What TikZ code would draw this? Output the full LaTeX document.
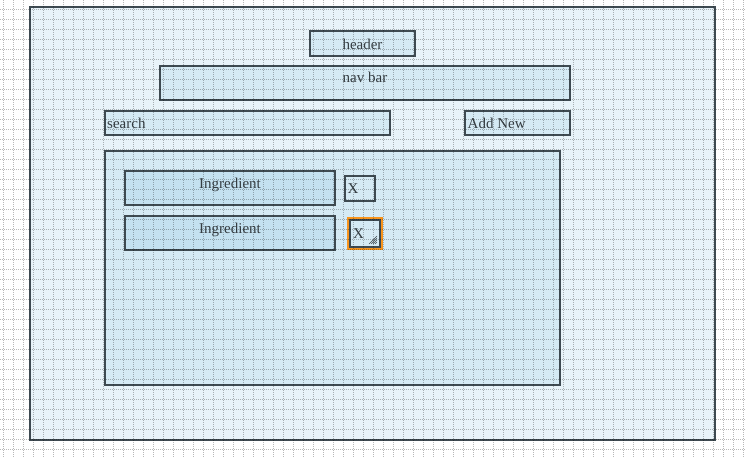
\documentclass[tikz,border=0pt]{standalone}
\usepackage{fontspec}
\setmainfont{Liberation Serif}
\definecolor{wireline}{HTML}{3E4A51}
\definecolor{wiretext}{HTML}{353D42}
\definecolor{pagefill}{HTML}{E8F3F9}
\definecolor{boxfill}{HTML}{D5EAF4}
\definecolor{rowfill}{HTML}{C4E1F0}
\definecolor{gridgray}{HTML}{B8B8B8}
\definecolor{selorange}{HTML}{F7941D}
\tikzset{
  wire/.style={draw=wireline, line width=2.3pt, fill=boxfill, anchor=north west,
    inner sep=0pt, outer sep=0pt},
  wiretxt/.style={text=wiretext, font=\fontsize{15}{17}\selectfont},
  gridline/.style={gridgray, line width=0.8pt, dash pattern=on 1pt off 1pt},
}
\begin{document}
\begin{tikzpicture}[x=1pt, y=-1pt]
	\useasboundingbox[fill=white] (0,0) rectangle (745,458);
	% page and top bar
	\node[wire, fill=pagefill, minimum width=685, minimum height=433] (page) at (30,7) {};
	\node[wire, minimum width=105, minimum height=25,
		label={[wiretxt, anchor=center, yshift=-1pt]center:header}] (header) at (310,31) {};
	\node[wire, minimum width=410, minimum height=34,
		label={[wiretxt, anchor=north, inner sep=5.5pt]north:nav bar}] (navbar) at (160,66) {};
	% search row
	\node[wire, minimum width=285, minimum height=24,
		label={[wiretxt, anchor=west, inner sep=2pt]west:search}] (search) at (105,111) {};
	\node[wire, minimum width=105, minimum height=24,
		label={[wiretxt, anchor=west, inner sep=2.5pt]west:Add New}] (addnew) at (465,111) {};
	% list of ingredients
	\node[wire, minimum width=455, minimum height=234] (list) at (105,151) {};
	\foreach \r\y in {1/171,2/216}{
		\node[wire, fill=rowfill, minimum width=210, minimum height=34,
			label={[wiretxt, anchor=north, inner sep=6.5pt]north:Ingredient}] (ingr\r) at (125,\y) {};
	}
	\node[wire, minimum width=30, minimum height=25,
		label={[wiretxt, anchor=west, inner sep=2.5pt]west:X}] (del1) at (345,176) {};
	\node[wire, minimum width=30, minimum height=27,
		label={[wiretxt, anchor=west, inner sep=3pt]west:X}] (del2) at (350,220) {};
	% selection outline and resize handle
	\draw[selorange, line width=1.5pt] ([shift={(-2.2,-2.2)}]del2.north west) rectangle ([shift={(2.2,2.2)}]del2.south east);
	\foreach \k in {2,4,6,8}{
		\draw[wireline, line width=0.6pt] ([shift={(-3-\k,-3)}]del2.south east) -- ([shift={(-3,-3-\k)}]del2.south east);
	}
	% dotted grid
	\begin{scope}[blend mode=multiply]
		\foreach \gx in {3,13,...,743}{
			\draw[gridline] (\gx,0) -- (\gx,458);
		}
		\foreach \gy in {9,19,...,449}{
			\draw[gridline] (0,\gy) -- (745,\gy);
		}
	\end{scope}
\end{tikzpicture}
\end{document}
